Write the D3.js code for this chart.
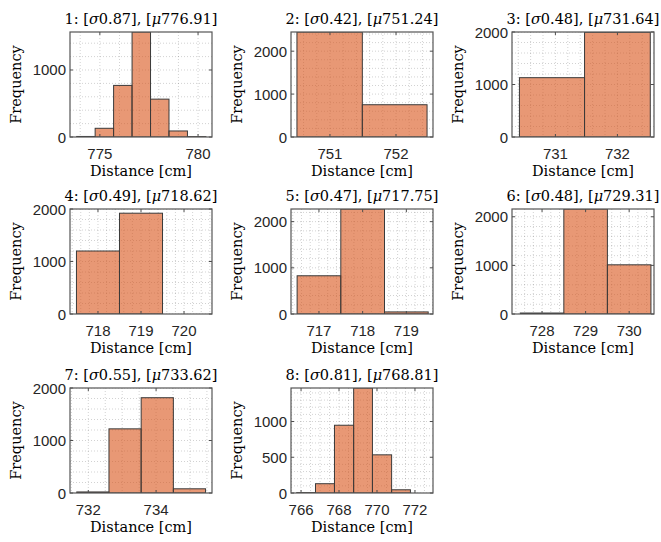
<!DOCTYPE html>
<html>
<head>
<meta charset="utf-8">
<script src="https://cdn.jsdelivr.net/npm/d3@7"></script>
<style>
  body { margin: 0; background: #fff; }
  .tick-label { font-family: "Liberation Sans", Arial, sans-serif; font-size: 15px; fill: #262626; }
  .latex { font-family: "DejaVu Serif", "Liberation Serif", serif; fill: #000; }
</style>
</head>
<body>
<div id="chart"></div>
<script>
// values
const sigmas = ["0.87", "0.42", "0.48", "0.49", "0.47", "0.48", "0.55", "0.81"];
const mus = ["776.91", "751.24", "731.64", "718.62", "717.75", "729.31", "733.62", "768.81"];

const binEdges = [
    [773.82, 774.76, 775.70, 776.64, 777.58, 778.52, 779.46, 780.40],
    [750.50, 751.49, 752.47],
    [730.42, 731.47, 732.53],
    [717.5, 718.5, 719.5],
    [716.5, 717.5, 718.5, 719.5],
    [727.5, 728.5, 729.5, 730.5],
    [731.66, 732.61, 733.56, 734.51, 735.46],
    [765.77, 766.76, 767.76, 768.77, 769.76, 770.77, 771.76]
];
const counts = [
    [8, 130, 770, 1567, 565, 90, 5],
    [2447, 752],
    [1130, 1995],
    [1200, 1920],
    [828, 2274, 45],
    [20, 2160, 1012],
    [20, 1222, 1815, 80],
    [5, 130, 948, 1469, 534, 45]
];

const xLimits = [
    [773.48, 780.71], [750.41, 752.56], [730.30, 732.59], [717.35, 720.65],
    [716.36, 719.61], [727.31, 730.57], [731.46, 735.65], [765.47, 772.95]
];
const yLimits = [1567, 2447, 2000, 2000, 2274, 2160, 2000, 1469];

const xTickValues = [
    [775, 780], [751, 752], [731, 732], [718, 719, 720],
    [717, 718, 719], [728, 729, 730], [732, 734], [766, 768, 770, 772]
];
const yTickValues = [
    [0, 1000], [0, 1000, 2000], [0, 1000, 2000], [0, 1000, 2000],
    [0, 1000, 2000], [0, 1000, 2000], [0, 1000, 2000], [0, 500, 1000]
];

const W = 661, H = 542;
const colLeft = [70, 291, 512];
const rowTop = [32, 209, 388];
const pw = 142, ph = 105;

const svg = d3.select("#chart").append("svg")
    .attr("width", W)
    .attr("height", H)
    .style("background", "#fff");

// minor grid spacing like matlab: step 2 -> quarters, otherwise fifths
function minorTicks(domain, major) {
    const step = major[1] - major[0];
    const lead = Math.round(step / Math.pow(10, Math.floor(Math.log10(step))));
    const m = lead === 2 ? step / 4 : step / 5;
    const out = [];
    for (let v = Math.ceil(domain[0] / m) * m; v <= domain[1] + 1e-9; v += m) out.push(v);
    return out;
}

counts.forEach((c, i) => {
    const x0 = colLeft[i % 3], y0 = rowTop[Math.floor(i / 3)];
    const g = svg.append("g").attr("transform", `translate(${x0},${y0})`);

    const x = d3.scaleLinear().domain(xLimits[i]).range([0, pw]);
    const y = d3.scaleLinear().domain([0, yLimits[i]]).range([ph, 0]);

    g.append("clipPath").attr("id", "clip" + i)
        .append("rect").attr("width", pw).attr("height", ph);

    // grid
    const grid = g.append("g").attr("clip-path", `url(#clip${i})`)
        .style("stroke", "#262626")
        .style("stroke-opacity", 0.3)
        .style("stroke-width", 0.7)
        .style("stroke-dasharray", "1,2");
    const xs = minorTicks(xLimits[i], xTickValues[i]);
    const ys = minorTicks([0, yLimits[i]], yTickValues[i]);
    grid.selectAll(".gx").data(xs).enter().append("line")
        .attr("x1", d => x(d)).attr("x2", d => x(d))
        .attr("y1", 0).attr("y2", ph);
    grid.selectAll(".gy").data(ys).enter().append("line")
        .attr("x1", 0).attr("x2", pw)
        .attr("y1", d => y(d)).attr("y2", d => y(d));

    // bars
    const bins = c.map((v, k) => ({ a: binEdges[i][k], b: binEdges[i][k + 1], v: v }));
    g.append("g").attr("clip-path", `url(#clip${i})`)
        .selectAll("rect")
        .data(bins)
        .enter().append("rect")
        .attr("x", d => x(d.a))
        .attr("width", d => x(d.b) - x(d.a))
        .attr("y", d => y(d.v))
        .attr("height", d => ph - y(d.v))
        .style("fill", "rgb(217,83,25)")
        .style("fill-opacity", 0.6)
        .style("stroke", "#3a3a3a")
        .style("stroke-width", 1);

    // ticks (inward, both sides)
    const tk = g.append("g").style("stroke", "#4d4d4d").style("stroke-width", 1);
    xTickValues[i].forEach(t => {
        tk.append("line").attr("x1", x(t)).attr("x2", x(t)).attr("y1", ph).attr("y2", ph - 3);
        tk.append("line").attr("x1", x(t)).attr("x2", x(t)).attr("y1", 0).attr("y2", 3);
    });
    yTickValues[i].forEach(t => {
        tk.append("line").attr("x1", 0).attr("x2", 3).attr("y1", y(t)).attr("y2", y(t));
        tk.append("line").attr("x1", pw).attr("x2", pw - 3).attr("y1", y(t)).attr("y2", y(t));
    });

    // box
    g.append("rect")
        .attr("width", pw).attr("height", ph)
        .style("fill", "none")
        .style("stroke", "#555")
        .style("stroke-width", 1.2);

    // tick labels
    g.selectAll(".xl").data(xTickValues[i]).enter().append("text")
        .attr("class", "tick-label")
        .attr("x", d => x(d)).attr("y", ph + 21.5)
        .attr("text-anchor", "middle")
        .text(d => d);
    g.selectAll(".yl").data(yTickValues[i]).enter().append("text")
        .attr("class", "tick-label")
        .attr("x", -4).attr("y", d => y(d))
        .attr("text-anchor", "end")
        .attr("dominant-baseline", "central")
        .text(d => d);

    // title
    const title = g.append("text").attr("class", "latex")
        .attr("x", pw / 2).attr("y", -8)
        .attr("text-anchor", "middle")
        .style("font-size", "14.5px");
    title.append("tspan").text((i + 1) + ": [");
    title.append("tspan").style("font-style", "italic").text("σ");
    title.append("tspan").text(sigmas[i] + "], [");
    title.append("tspan").style("font-style", "italic").text("μ");
    title.append("tspan").text(mus[i] + "]");

    // axis labels
    g.append("text").attr("class", "latex")
        .attr("x", pw / 2).attr("y", ph + 39)
        .attr("text-anchor", "middle")
        .style("font-size", "14.5px")
        .text("Distance [cm]");
    g.append("text").attr("class", "latex")
        .attr("transform", `translate(-54,${ph / 2}) rotate(-90)`)
        .attr("text-anchor", "middle")
        .attr("dominant-baseline", "central")
        .style("font-size", "14.5px")
        .text("Frequency");
});
</script>
</body>
</html>
